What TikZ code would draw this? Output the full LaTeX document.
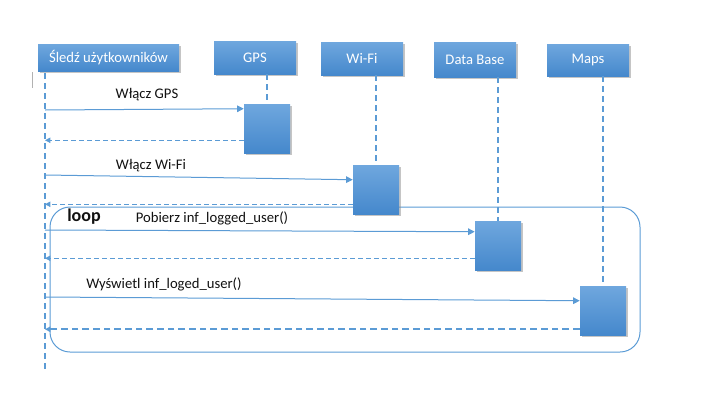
\documentclass[tikz,border=0pt]{standalone}
\usepackage{fontspec}
\setmainfont{Carlito}
\usetikzlibrary{calc,arrows.meta,shadows}
\definecolor{umlblue}{HTML}{5B9BD5}
\definecolor{boxtop}{HTML}{6FA7DE}
\definecolor{boxbot}{HTML}{4588CC}
\definecolor{ink}{HTML}{111111}
\tikzset{
  head/.style={rectangle, top color=boxtop, bottom color=boxbot, text=white,
    font=\fontsize{11}{13}\selectfont, inner sep=0pt,
    drop shadow={shadow xshift=1.2pt, shadow yshift=-1.2pt, fill=black!45}},
  act/.style={rectangle, top color=boxtop, bottom color=boxbot, inner sep=0pt,
    minimum width=34.5pt, minimum height=36.75pt,
    drop shadow={shadow xshift=1.2pt, shadow yshift=-1.2pt, fill=black!45}},
  life/.style={draw=umlblue, line width=1.5pt, dash pattern=on 4.5pt off 3pt},
  msg/.style={draw=umlblue, line width=0.75pt, -{Triangle[length=5pt,width=5pt]}},
  ret/.style={draw=umlblue, line width=0.75pt, dash pattern=on 3.5pt off 2.5pt,
    -{Triangle[length=4pt,width=4pt]}},
  loopframe/.style={draw=umlblue, line width=0.75pt, rounded corners=15pt},
  labm/.style={text=ink, font=\fontsize{11}{13}\selectfont},
}

\begin{document}
\begin{tikzpicture}[x=0.75pt, y=-0.75pt]
  \useasboundingbox (0,0) rectangle (721,418);

  % loop frame (behind the boxes)
  \draw[loopframe] (50,207) rectangle (640,352);

  % lifeline heads
  \node[head, minimum width=105.75pt, minimum height=20.25pt] (user) at (108.5,57.5) {Śledź użytkowników};
  \node[head, minimum width=61.5pt, minimum height=24.75pt] (gps) at (255,57.5) {GPS};
  \node[head, minimum width=61.5pt, minimum height=24.75pt] (wifi) at (362,58.5) {Wi-Fi};
  \node[head, minimum width=61.5pt, minimum height=26.25pt] (db) at (475,59.5) {Data Base};
  \node[head, minimum width=61.5pt, minimum height=24pt] (maps) at (588,60) {Maps};

  \draw[gray!60, line width=0.4pt] (32,72) -- (32,88);

  % user lifeline
  \coordinate (uTop) at (45,73);
  \coordinate (uEnd) at (45,372);
  \draw[life] (uTop) -- (uEnd);

  % activations
  \node[act] (gpsact) at (267,128.5) {};
  \node[act] (wifiact) at (376,189.5) {};
  \node[act] (dbact) at (498,245.5) {};
  \node[act] (mapsact) at (603,310.5) {};

  \draw[life] (gps.south -| gpsact.north) -- (gpsact.north);
  \draw[life] (wifi.south -| wifiact.north) -- (wifiact.north);
  \draw[life] (db.south -| dbact.north) -- (dbact.north);
  \draw[life] (maps.south -| mapsact.north) -- (mapsact.north);

  % calls
  \coordinate (gpsIn) at ($(gpsact.north west)+(0,5)$);
  \coordinate (wifiIn) at ($(wifiact.north west)+(0,15)$);
  \coordinate (dbIn) at ($(dbact.north west)+(0,11)$);
  \coordinate (mapsIn) at ($(mapsact.north west)+(0,15)$);
  \draw[msg] (45,110) coordinate (m1) -- (gpsIn);
  \draw[msg] (45,175) coordinate (m2) -- (wifiIn);
  \draw[msg] (45,230) coordinate (m3) -- (dbIn);
  \draw[msg] (45,297) coordinate (m4) -- (mapsIn);

  % returns
  \coordinate (gpsOut) at ($(gpsact.south west)+(0,-13)$);
  \coordinate (wifiOut) at ($(wifiact.south west)+(0,-10)$);
  \coordinate (dbOut) at ($(dbact.south west)+(0,-12)$);
  \coordinate (mapsOut) at ($(mapsact.south west)+(0,-6)$);
  \draw[ret] (gpsOut) -- (gpsOut -| uTop);
  \draw[ret] (wifiOut) -- (wifiOut -| uTop);
  \draw[ret] (dbOut) -- (dbOut -| uTop);
  \draw[ret, line width=1.5pt, dash pattern=on 5pt off 3pt] (mapsOut) -- (mapsOut -| uTop);

  % labels
  \node[labm] (l1) at (147,95) {Włącz GPS};
  \node[labm] (l2) at (151,166) {Włącz Wi-Fi};
  \node[labm, font=\fontsize{13.5}{15}\selectfont\bfseries] (lloop) at (84,217) {loop};
  \node[labm] (l3) at (212,218) {Pobierz inf\_logged\_user()};
  \node[labm] (l4) at (164,284) {Wyświetl inf\_loged\_user()};
\end{tikzpicture}
\end{document}
